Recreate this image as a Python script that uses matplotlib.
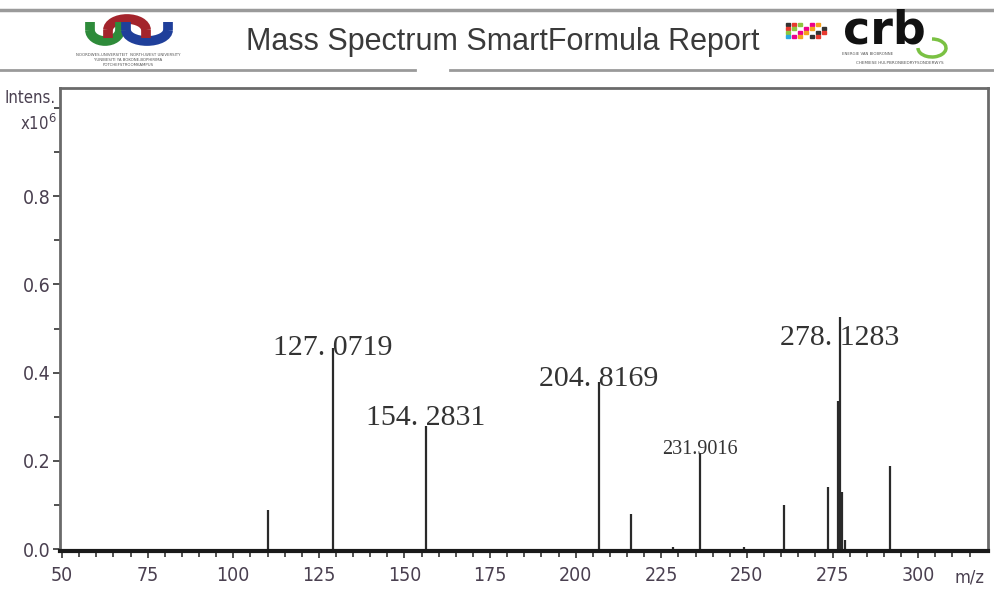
import matplotlib.pyplot as plt
import numpy as np
from matplotlib.patches import Arc, Rectangle
from matplotlib import font_manager

# peak list (m/z, intensity x10^6)
mz = [110.2, 129.1, 156.3, 206.8, 216.2, 228.5, 236.3, 249.0, 260.9, 273.7, 276.6, 277.2, 277.9, 278.5, 291.8]
intensity = [0.088, 0.455, 0.280, 0.380, 0.079, 0.006, 0.217, 0.004, 0.100, 0.142, 0.335, 0.527, 0.130, 0.020, 0.188]

# labels as printed on the report
label_text = ['127. 0719', '154. 2831', '204. 8169', '231.9016', '278. 1283']
label_x = [129.1, 156.3, 206.8, 236.3, 277.2]
label_y = [0.455, 0.298, 0.386, 0.225, 0.478]
label_size = [21.5, 21.5, 21.5, 14.5, 21.5]

xticks = [50, 75, 100, 125, 150, 175, 200, 225, 250, 275, 300]
yticks = [0.0, 0.2, 0.4, 0.6, 0.8]

# condensed face if one is around
names = set(f.name for f in font_manager.fontManager.ttflist)
narrow = ['Liberation Sans Narrow'] if 'Liberation Sans Narrow' in names else ['DejaVu Sans']
stretch = 'condensed'
tick_col = '#4a4050'

fig = plt.figure(figsize=(9.94, 5.94), dpi=100)
W, H = 994, 594

def fx(px):
    return px / W

def fy(py):
    return 1 - py / H

# -- header
fig.add_artist(plt.Line2D([0, 1], [fy(10), fy(10)], color='#9a9a9a', lw=2.5))
fig.add_artist(plt.Line2D([0, fx(415)], [fy(70), fy(70)], color='#9a9a9a', lw=2))
fig.add_artist(plt.Line2D([fx(450), 1], [fy(70), fy(70)], color='#9a9a9a', lw=2))
fig.text(fx(503), fy(42), 'Mass Spectrum SmartFormula Report', ha='center', va='center',
         fontsize=22, color='#3a3a3a', family=['Liberation Sans', 'DejaVu Sans'])

# left logo (three interlocking arches), 1 unit ~ 1 px
lg = fig.add_axes([fx(84), fy(50), fx(90), fy(12) - fy(50)])
lg.set_xlim(0, 90)
lg.set_ylim(0, 38)
lg.axis('off')

def u_shape(cx, cy, w, h, leg, col, up=True):
    a1, a2, s = (180, 360, 1) if up else (0, 180, -1)
    lg.add_patch(Arc((cx, cy), w, h, theta1=a1, theta2=a2, color=col, lw=7))
    lg.plot([cx - w / 2] * 2, [cy, cy + s * leg], color=col, lw=7, solid_capstyle='butt')
    lg.plot([cx + w / 2] * 2, [cy, cy + s * leg], color=col, lw=7, solid_capstyle='butt')

u_shape(21, 20, 30, 22, 8, '#2e8b3a')
u_shape(43, 20, 38, 22, 8, '#a3242c', up=False)
u_shape(63, 20, 42, 22, 8, '#1f3f9a')

for i, t in enumerate(['NOORDWES-UNIVERSITEIT  NORTH-WEST UNIVERSITY',
                       'YUNIBESITI YA BOKONE-BOPHIRIMA',
                       'POTCHEFSTROOMKAMPUS']):
    fig.text(fx(128), fy(55 + 5 * i), t, ha='center', va='center', fontsize=2.8, color='#555555')

# right logo
dot_cols = ['#333333', '#e8392f', '#8cc63f', '#29a9e0', '#ec008c', '#f4a11d', '#7b3f98']
for i, c in enumerate(dot_cols):
    for j in range(4):
        if (i + j) % 3 == 0 and i > 0:
            continue
        fig.add_artist(Rectangle((fx(786 + 6 * i), fy(26 + 4 * j)), fx(4), fy(0) - fy(3),
                                 color=dot_cols[(i + j) % len(dot_cols)]))
fig.text(fx(884), fy(31), 'crb', ha='center', va='center', fontsize=33, fontweight='bold',
         color='#111111', family=['DejaVu Sans'])
fig.add_artist(Arc((fx(932), fy(48)), fx(28), fy(0) - fy(18), color='#7ac143', lw=2.5,
                   theta1=180, theta2=450))
fig.text(fx(868), fy(54), 'ENERGIE VAN BIOBRONNE', ha='center', va='center',
         fontsize=2.8, color='#555555')
fig.text(fx(900), fy(63), 'CHEMIESE HULPBRONBEDRYFSONDERWYS', ha='center', va='center',
         fontsize=3, color='#555555')

# -- spectrum
ax = fig.add_axes([fx(60), fy(551), fx(988) - fx(60), fy(88) - fy(551)])
ax.vlines(mz, 0, intensity, color='#2a2a2a', lw=1.6)
ax.set_xlim(49.4, 320.4)
ax.set_ylim(-0.004, 1.045)

for t, x, y, s in zip(label_text, label_x, label_y, label_size):
    ax.text(x, y, t, ha='center', va='center', fontsize=s, color='#333333',
            family=['Liberation Serif', 'DejaVu Serif'])

ax.set_xticks(xticks)
ax.set_xticks(np.arange(50, 320, 5), minor=True)
ax.set_yticks(yticks)
ax.set_yticks(np.arange(0.1, 1.01, 0.1), minor=True)
ax.set_xticklabels([str(v) for v in xticks])
ax.set_yticklabels(['%.1f' % v for v in yticks])
ax.tick_params(axis='both', which='major', direction='out', length=5, width=1.2,
               colors='#333333', labelcolor=tick_col, labelsize=14)
ax.tick_params(axis='x', which='major', pad=6)
ax.tick_params(axis='y', which='major', pad=2)
ax.tick_params(axis='both', which='minor', direction='out', length=4, width=1.2, colors='#333333')
for lab in ax.get_xticklabels() + ax.get_yticklabels():
    lab.set_family(narrow)
    lab.set_stretch(stretch)

for side in ['left', 'top', 'right']:
    ax.spines[side].set_color('#6a6a6a')
    ax.spines[side].set_linewidth(2)
ax.spines['bottom'].set_color('#1a1a1a')
ax.spines['bottom'].set_linewidth(3)

fig.text(fx(30), fy(98), 'Intens.', ha='center', va='center', fontsize=12, color=tick_col,
         family=narrow, stretch=stretch)
fig.text(fx(38), fy(124), r'x10$^6$', ha='center', va='center', fontsize=12, color=tick_col,
         family=narrow, stretch=stretch)
fig.text(fx(970), fy(578), 'm/z', ha='center', va='center', fontsize=13, color=tick_col,
         family=narrow, stretch=stretch)

plt.savefig('out.png', dpi=100)
